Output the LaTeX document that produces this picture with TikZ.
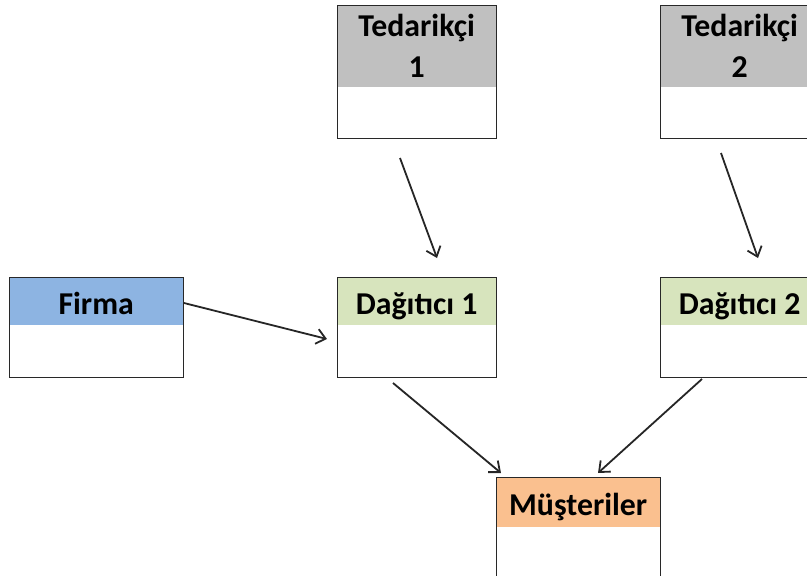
\documentclass[tikz,border=0pt]{standalone}
\usepackage{fontspec}
\setmainfont{Carlito}
\usetikzlibrary{arrows.meta}
\definecolor{hdrgray}{RGB}{192,192,192}
\definecolor{hdrblue}{RGB}{141,180,226}
\definecolor{hdrgreen}{RGB}{215,228,189}
\definecolor{hdrorange}{RGB}{250,192,143}
\definecolor{frameline}{RGB}{40,40,40}
\begin{document}
\begin{tikzpicture}[x=1pt,y=-1pt,
  hdr/.style={anchor=north west, inner sep=0pt, minimum width=159pt,
    align=center, font=\fontsize{31.8}{41}\selectfont\bfseries},
  onehdr/.style={hdr, text height=27pt, text depth=0pt},
  frame/.style={anchor=north west, draw=frameline, line width=1.4pt,
    inner sep=0pt, minimum width=159pt},
  flow/.style={draw=black!85, line width=1.8pt,
    -{Straight Barb[length=9pt,width=15pt,line width=1.8pt]}}]
  \useasboundingbox (0,0) rectangle (807,576);
  \clip (0,0) rectangle (807,576);

  % suppliers
  \node[hdr, fill=hdrgray, minimum height=82pt] (t1h) at (337,5) {Tedarikçi\\1};
  \node[frame, minimum height=133pt] (t1) at (337,5) {};
  \node[hdr, fill=hdrgray, minimum height=82pt] (t2h) at (660,5) {Tedarikçi\\2};
  \node[frame, minimum height=133pt] (t2) at (660,5) {};

  % company and distributors
  \node[onehdr, fill=hdrblue, minimum width=174pt, minimum height=48pt] (fh) at (9,277) {Firma};
  \node[frame, minimum width=174pt, minimum height=100pt] (f) at (9,277) {};
  \node[onehdr, fill=hdrgreen, minimum height=48pt] (d1h) at (337,277) {Dağıtıcı 1};
  \node[frame, minimum height=100pt] (d1) at (337,277) {};
  \node[onehdr, fill=hdrgreen, minimum height=48pt] (d2h) at (660,277) {Dağıtıcı 2};
  \node[frame, minimum height=100pt] (d2) at (660,277) {};

  % customers
  \node[onehdr, fill=hdrorange, minimum width=164pt, minimum height=50pt] (mh) at (496,477) {Müşteriler};
  \node[frame, minimum width=164pt, minimum height=102pt] (m) at (496,477) {};

  % connector ends
  \coordinate (t1out) at (400,158);
  \coordinate (d1in) at (437,258);
  \coordinate (t2out) at (721,153);
  \coordinate (d2in) at (758,258);
  \coordinate (fout) at (184,303);
  \coordinate (d1left) at (327,339);
  \coordinate (d1out) at (393,383);
  \coordinate (min1) at (501,473);
  \coordinate (d2out) at (702,379);
  \coordinate (min2) at (598,473);

  \draw[flow] (t1out) -- (d1in);
  \draw[flow] (t2out) -- (d2in);
  \draw[flow] (fout) -- (d1left);
  \draw[flow] (d1out) -- (min1);
  \draw[flow] (d2out) -- (min2);
\end{tikzpicture}
\end{document}
